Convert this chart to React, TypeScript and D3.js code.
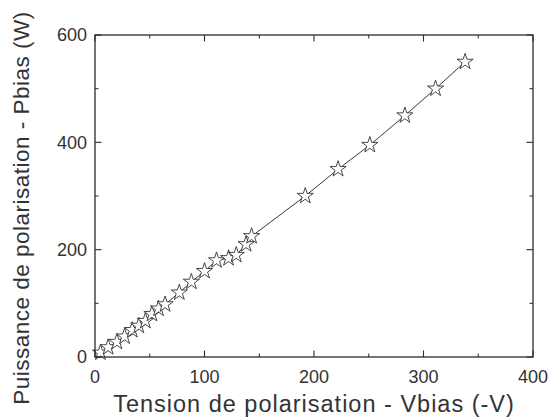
import React from "react";
import * as d3 from "d3";

const vbias = [5, 12, 20, 27, 34, 40, 46, 52, 58, 64, 77, 88, 100, 111, 122, 129, 138, 143, 192, 222, 251, 283, 311, 338];
const pbias = [8, 18, 28, 38, 50, 58, 67, 80, 90, 98, 120, 140, 160, 180, 184, 190, 210, 225, 300, 350, 395, 450, 500, 550];
const xTicks = [0, 100, 200, 300, 400];
const xMinor = [50, 150, 250, 350];
const yTicks = [0, 200, 400, 600];
const yMinor = [100, 300, 500];

const W = 554, H = 418;
const L = 95, R = 533, T = 35, B = 357;
const AX = "#2b2b2b";
const FONT = "'Liberation Sans', Arial, sans-serif";

function starPath(Ro: number) {
  const ri = Ro * 0.382;
  const pts: [number, number][] = [];
  for (let i = 0; i < 10; i++) {
    const a = -Math.PI / 2 + (i * Math.PI) / 5;
    const rr = i % 2 === 0 ? Ro : ri;
    pts.push([rr * Math.cos(a), rr * Math.sin(a)]);
  }
  return "M" + pts.map((p) => p[0].toFixed(2) + "," + p[1].toFixed(2)).join("L") + "Z";
}

export default function App() {
  const x = d3.scaleLinear().domain([0, 400]).range([L, R]);
  const y = d3.scaleLinear().domain([0, 600]).range([B, T]);
  const data = vbias.map((v, i) => [v, pbias[i]] as [number, number]);
  const line = d3.line<[number, number]>().x((d) => x(d[0])).y((d) => y(d[1]));
  const star = starPath(8.5);
  const major = 6.5, minor = 3.5;
  return (
    <svg width={W} height={H} style={{ position: "absolute", left: 0, top: 0, background: "#fff" }}>
      <path d={line(data) || ""} fill="none" stroke="#222" strokeWidth={0.9} />
      {data.map((d, i) => (
        <path key={i} d={star} transform={`translate(${x(d[0])},${y(d[1])})`} fill="#fff" stroke="#333" strokeWidth={0.9} strokeLinejoin="miter" />
      ))}
      <rect x={L} y={T} width={R - L} height={B - T} fill="none" stroke={AX} strokeWidth={1.3} />
      {xTicks.map((t) => (
        <g key={"xt" + t}>
          <line x1={x(t)} x2={x(t)} y1={B} y2={B - major} stroke={AX} strokeWidth={1.1} />
          <line x1={x(t)} x2={x(t)} y1={T} y2={T + major} stroke={AX} strokeWidth={1.1} />
          <text x={x(t)} y={383} textAnchor="middle" fontFamily={FONT} fontSize={18} fill="#333">{t}</text>
        </g>
      ))}
      {xMinor.map((t) => (
        <g key={"xm" + t}>
          <line x1={x(t)} x2={x(t)} y1={B} y2={B - minor} stroke={AX} strokeWidth={1} />
          <line x1={x(t)} x2={x(t)} y1={T} y2={T + minor} stroke={AX} strokeWidth={1} />
        </g>
      ))}
      {yTicks.map((t) => (
        <g key={"yt" + t}>
          <line x1={L} x2={L + major} y1={y(t)} y2={y(t)} stroke={AX} strokeWidth={1.1} />
          <line x1={R} x2={R - major} y1={y(t)} y2={y(t)} stroke={AX} strokeWidth={1.1} />
          <text x={87} y={y(t)} dy="0.35em" textAnchor="end" fontFamily={FONT} fontSize={18} fill="#333">{t}</text>
        </g>
      ))}
      {yMinor.map((t) => (
        <g key={"ym" + t}>
          <line x1={L} x2={L + minor} y1={y(t)} y2={y(t)} stroke={AX} strokeWidth={1} />
          <line x1={R} x2={R - minor} y1={y(t)} y2={y(t)} stroke={AX} strokeWidth={1} />
        </g>
      ))}
      <text x={(L + R) / 2} y={412} textAnchor="middle" fontFamily={FONT} fontSize={23.5} letterSpacing={1} fill="#333">
        Tension de polarisation - Vbias (-V)
      </text>
      <text transform={`translate(29,${208}) rotate(-90)`} textAnchor="middle" fontFamily={FONT} fontSize={22.5} letterSpacing={0.5} fill="#333">
        Puissance de polarisation - Pbias (W)
      </text>
    </svg>
  );
}
